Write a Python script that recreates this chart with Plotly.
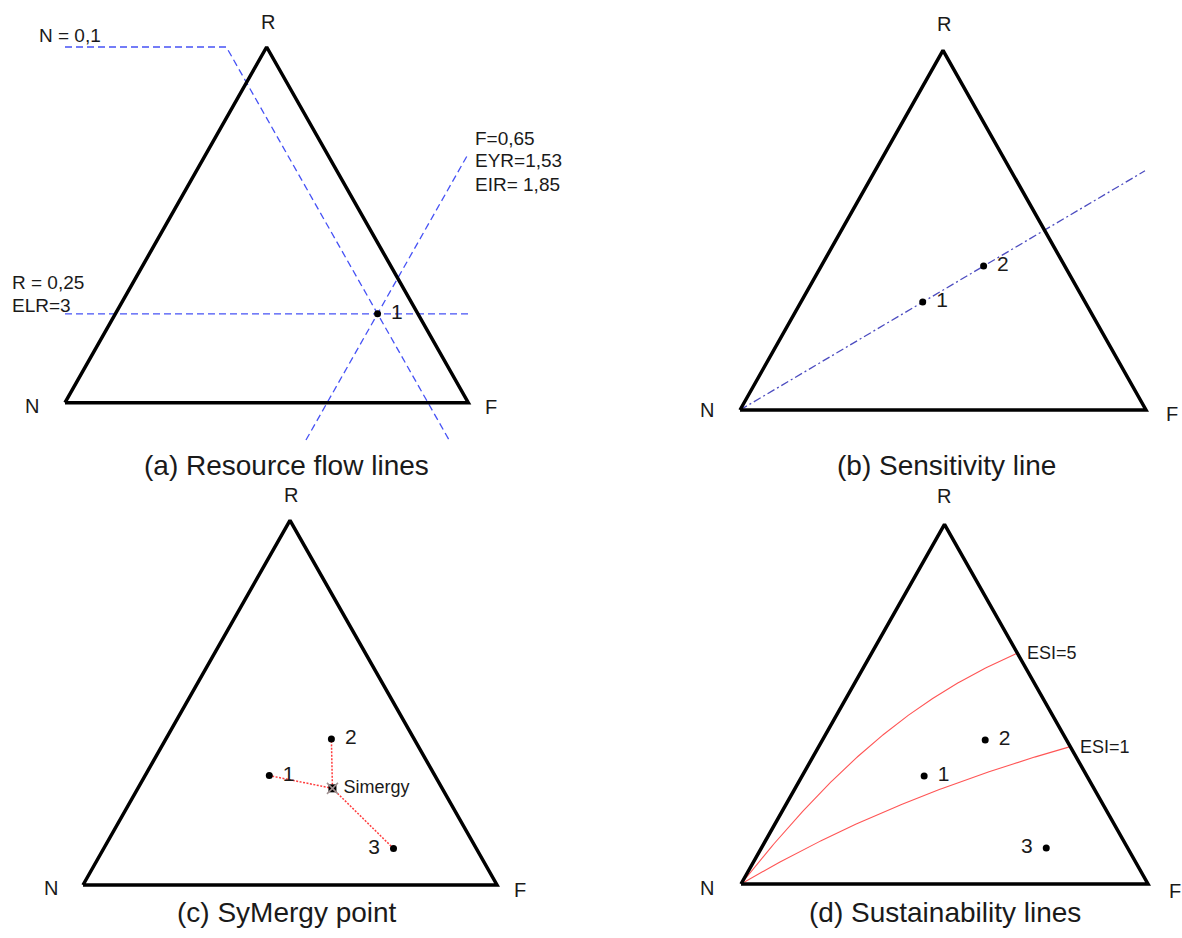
import numpy as np
import plotly.graph_objects as go

W, H = 1182, 938

# ---------------- data: ternary fractions (R, F); N = 1 - R - F ----------------
# (a) Resource flow lines
a_pts_R = [0.25]
a_pts_F = [0.65]
a_pts_lbl = ["1"]
a_isoR_R = [0.25, 0.25]          # R = 0,25 line
a_isoR_F = [-0.125, 0.879]
a_isoN_R = [1.0, 1.0, -0.105]    # N = 0,1 line (with leader)
a_isoN_F = [-0.5, -0.1, 1.005]
a_isoF_R = [-0.105, 0.70]        # F = 0,65 line
a_isoF_F = [0.65, 0.65]

# (b) Sensitivity line
b_pts_R = [0.3, 0.4]
b_pts_F = [0.3, 0.4]
b_pts_lbl = ["1", "2"]
b_sens_R = [0.0, 0.665]
b_sens_F = [0.0, 0.665]

# (c) SyMergy point
c_pts_R = [0.3, 0.4, 0.1]
c_pts_F = [0.3, 0.4, 0.7]
c_pts_lbl = ["1", "2", "3"]
c_sym_R = [0.265]
c_sym_F = [0.47]
c_sym_lbl = ["Simergy"]

# (d) Sustainability lines
d_pts_R = [0.3, 0.4, 0.1]
d_pts_F = [0.3, 0.4, 0.7]
d_pts_lbl = ["1", "2", "3"]
esi_levels = [5, 1]
esi_labels = ["ESI=5", "ESI=1"]

corner_labels = ["R", "N", "F"]
captions = ["(a) Resource flow lines", "(b) Sensitivity line",
            "(c) SyMergy point", "(d) Sustainability lines"]

# ---------------- helpers ----------------
def tern_xy(R, F):
    x = [None if (r is None) else f + r / 2.0 for r, f in zip(R, F)]
    y = [r for r in R]
    return x, y

FONT = "Liberation Sans, Arial, sans-serif"
TXT = "#1a1a1a"

# panel geometry in pixels: N vertex x, base y, base width, apex y, region
panels = [
    dict(Nx=65.0, Ny=402.7, bw=403.3, ay=47.0, reg=(0, 591, 0, 469)),
    dict(Nx=740.0, Ny=410.0, bw=406.0, ay=50.3, reg=(591, 1182, 0, 469)),
    dict(Nx=83.0, Ny=885.0, bw=414.0, ay=520.3, reg=(0, 591, 469, 938)),
    dict(Nx=741.0, Ny=884.0, bw=407.0, ay=524.3, reg=(591, 1182, 469, 938)),
]

fig = go.Figure()
layout_axes = {}
for i, p in enumerate(panels):
    x0, x1, top, bot = p["reg"]
    sy = p["Ny"] - p["ay"]
    xr = [(x0 - p["Nx"]) / p["bw"], (x1 - p["Nx"]) / p["bw"]]
    yr = [(p["Ny"] - bot) / sy, (p["Ny"] - top) / sy]
    sfx = "" if i == 0 else str(i + 1)
    layout_axes["xaxis" + sfx] = dict(domain=[x0 / W, x1 / W], range=xr, visible=False,
                                      fixedrange=True, anchor="y" + sfx)
    layout_axes["yaxis" + sfx] = dict(domain=[1 - bot / H, 1 - top / H], range=yr, visible=False,
                                      fixedrange=True, anchor="x" + sfx)

def ax(i):
    return ("x", "y") if i == 0 else ("x" + str(i + 1), "y" + str(i + 1))

def add(i, R, F, **kw):
    x, y = tern_xy(R, F)
    xa, ya = ax(i)
    fig.add_trace(go.Scatter(x=x, y=y, xaxis=xa, yaxis=ya, showlegend=False,
                             hoverinfo="skip", **kw))

# triangle outlines
tri_R = [0, 0, 1, 0]
tri_F = [0, 1, 0, 0]

# (a)
blue = "#4652f5"
add(0, a_isoR_R, a_isoR_F, mode="lines", line=dict(color=blue, width=1.3, dash="7px,4px"))
add(0, a_isoN_R, a_isoN_F, mode="lines", line=dict(color=blue, width=1.3, dash="7px,4px"))
add(0, a_isoF_R, a_isoF_F, mode="lines", line=dict(color=blue, width=1.3, dash="7px,4px"))

# (b)
add(1, b_sens_R, b_sens_F, mode="lines", line=dict(color="#4c4cc0", width=1.3, dash="8px,3px,2px,3px"))

# (c)
red = "#ff3c3c"
segR, segF = [], []
for r, f in zip(c_pts_R, c_pts_F):
    segR += [c_sym_R[0], r, None]
    segF += [c_sym_F[0], f, None]
add(2, segR, segF, mode="lines", line=dict(color=red, width=1.5, dash="2px,1.5px"))

# (d) ESI isolines: ESI = R / (F (1 - R))
for lvl in esi_levels:
    f_end = (-1 + np.sqrt(1 + 4 * lvl)) / (2 * lvl)
    F = np.linspace(0, f_end, 200)
    R = lvl * F / (1 + lvl * F)
    add(3, list(R), list(F), mode="lines", line=dict(color="#ff5555", width=1.1))

for i in range(4):
    add(i, tri_R, tri_F, mode="lines", line=dict(color="black", width=3.5))

# points + labels (labels via invisible larger marker for spacing)
def pts(i, R, F, lbl, pos):
    add(i, R, F, mode="markers", marker=dict(color="black", size=7))
    add(i, R, F, mode="markers+text", text=lbl, textposition=pos,
        marker=dict(color="rgba(0,0,0,0)", size=20),
        textfont=dict(family=FONT, size=21, color=TXT))

pts(0, a_pts_R, a_pts_F, a_pts_lbl, "middle right")
pts(1, b_pts_R, b_pts_F, b_pts_lbl, "middle right")
pts(2, c_pts_R, c_pts_F, c_pts_lbl, ["middle right", "middle right", "middle left"])
pts(3, d_pts_R, d_pts_F, d_pts_lbl, ["middle right", "middle right", "middle left"])

add(2, c_sym_R, c_sym_F, mode="markers",
    marker=dict(color="black", size=8, symbol="square"))
add(2, c_sym_R, c_sym_F, mode="markers",
    marker=dict(color="rgba(0,0,0,0)", size=11, symbol="x-thin",
                line=dict(color="#a09090", width=1.5)))
add(2, c_sym_R, c_sym_F, mode="markers+text", text=c_sym_lbl, textposition="middle right",
    marker=dict(color="rgba(0,0,0,0)", size=16),
    textfont=dict(family=FONT, size=18, color=TXT))

annotations = []
# ESI labels at curve ends
for lvl, lab in zip(esi_levels, esi_labels):
    f_end = (-1 + np.sqrt(1 + 4 * lvl)) / (2 * lvl)
    r_end = 1 - f_end
    xx, yy = tern_xy([r_end], [f_end])
    annotations.append(dict(x=xx[0], y=yy[0], xref="x4", yref="y4", text=lab, showarrow=False,
                            xanchor="left", yanchor="middle", xshift=8,
                            font=dict(family=FONT, size=18, color=TXT)))

def ptxt(px, py, text, size, anchor="center"):
    annotations.append(dict(x=px / W, y=1 - py / H, xref="paper", yref="paper", text=text,
                            showarrow=False, xanchor=anchor, yanchor="middle",
                            font=dict(family=FONT, size=size, color=TXT)))

# corner labels (R, N, F) per panel
corner_pos = [
    [(268, 22), (32, 406), (491, 407)],
    [(944, 24), (707, 410), (1172, 414)],
    [(291, 495), (51, 888), (520, 890)],
    [(944, 496), (707, 888), (1175, 891)],
]
for cp in corner_pos:
    for (px, py), t in zip(cp, corner_labels):
        ptxt(px, py, t, 20)

# panel (a) value labels
ptxt(37, 35, "N = 0,1", 19, "left")
ptxt(473, 138, "F=0,65", 19, "left")
ptxt(473, 161, "EYR=1,53", 19, "left")
ptxt(473, 184, "EIR= 1,85", 19, "left")
ptxt(10, 282, "R = 0,25", 19, "left")
ptxt(10, 305, "ELR=3", 19, "left")

# captions
cap_pos = [(286, 465), (946, 465), (287, 912), (945, 912)]
for (px, py), t in zip(cap_pos, captions):
    ptxt(px, py, t, 28)

fig.update_layout(width=W, height=H, autosize=False, margin=dict(l=0, r=0, t=0, b=0),
                  paper_bgcolor="white", plot_bgcolor="white",
                  annotations=annotations, **layout_axes)

fig.write_html("out.html", config={"displayModeBar": False},
               post_script="document.body.style.margin='0px';document.body.style.overflow='hidden';")
